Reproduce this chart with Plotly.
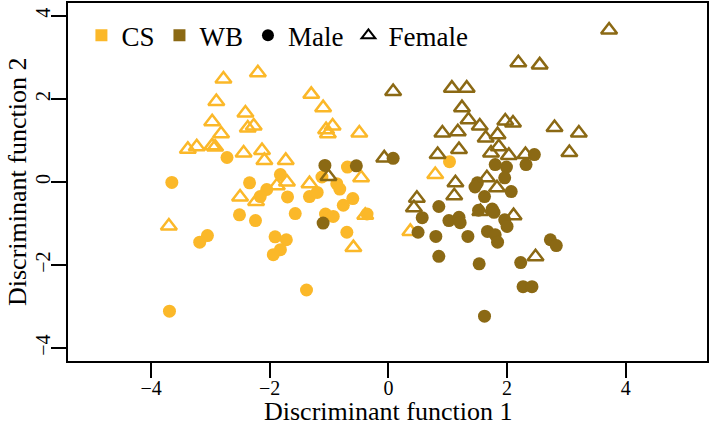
import plotly.graph_objects as go

YELLOW = "#FBB829"
BROWN = "#8B6914"

# CS female (open triangles)
cs_f_x = [-2.78, -2.20, -2.90, -1.30, -1.10, -2.41, -2.97, -2.27, -2.37, -2.82, -0.94, -1.05, -1.02,
          -0.49, -3.38, -3.23, -2.97, -2.92, -2.44, -2.13, -2.09, -1.73, -0.46, -1.33, -1.71, -1.88,
          -2.50, -2.23, -3.70, -0.39, -0.59, 0.79, 0.37]
cs_f_y = [2.48, 2.63, 1.94, 2.11, 1.79, 1.66, 1.45, 1.35, 1.30, 1.16, 1.35, 1.26, 1.16,
          1.18, 0.79, 0.85, 0.87, 0.84, 0.70, 0.76, 0.52, 0.52, 0.10, -0.04, 0.00, -0.09,
          -0.36, -0.47, -1.06, -0.80, -1.58, 0.18, -1.19]

# CS male (filled circles)
cs_m_x = [-2.72, -3.65, -2.34, -1.82, -2.05, -2.16, -1.70, -1.33, -1.20, -0.87, -0.82, -0.69, -1.12,
          -0.60, -0.76, -2.51, -2.24, -1.57, -1.06, -0.93, -0.36, -0.70, -1.91, -1.72, -1.82, -1.94,
          -3.05, -3.18, -1.38, -3.69, 1.03]
cs_m_y = [0.59, -0.01, -0.02, 0.18, -0.18, -0.35, -0.36, -0.35, -0.25, -0.04, -0.17, 0.36, 0.12,
          -0.40, -0.56, -0.79, -0.93, -0.76, -0.77, -0.83, -0.77, -1.21, -1.32, -1.39, -1.63, -1.75,
          -1.29, -1.45, -2.60, -3.11, 0.49]

# WB female (open triangles)
wb_f_x = [3.72, 2.19, 2.55, 0.08, 1.07, 1.32, 1.24, 1.35, 1.54, 1.97, 2.10, 0.91, 1.17, 1.64, 1.84,
          2.80, 3.21, 3.05, 0.83, 1.19, 1.86, 1.73, 2.03, 2.31, -0.07, 1.13, 1.66, 1.83, 0.48, 1.11,
          0.43, 1.55, 2.11, 2.48, -1.01]
wb_f_y = [3.66, 2.87, 2.82, 2.18, 2.26, 2.26, 1.79, 1.50, 1.35, 1.47, 1.42, 1.18, 1.21, 1.06, 1.14,
          1.31, 1.18, 0.71, 0.66, 0.78, 0.85, 0.70, 0.64, 0.66, 0.58, -0.02, 0.10, -0.14, -0.39, -0.33,
          -0.62, -0.71, -0.81, -1.80, 0.13]

# WB male (filled circles)
wb_m_x = [-1.07, -0.54, 0.08, -1.10, 2.46, 2.32, 1.80, 1.99, 1.96, 1.50, 1.46, 1.62, 2.07, 0.85, 0.57,
          1.02, 1.19, 1.21, 1.52, 1.75, 1.78, 1.96, 2.00, 0.50, 0.80, 1.34, 1.67, 1.80, 1.84, 2.73,
          2.83, 0.85, 1.53, 2.23, 2.27, 2.42, 1.62]
wb_m_y = [0.40, 0.39, 0.57, -0.99, 0.66, 0.42, 0.42, 0.36, 0.10, -0.02, -0.12, -0.35, -0.23, -0.59, -0.86,
          -0.93, -0.85, -0.98, -0.68, -0.65, -0.73, -0.91, -1.07, -1.21, -1.31, -1.31, -1.19, -1.27, -1.45, -1.39,
          -1.53, -1.79, -1.97, -1.94, -2.52, -2.52, -3.23]

x_ticks = [-4, -2, 0, 2, 4]
x_tick_labels = ["\u22124", "\u22122", "0", "2", "4"]
y_ticks = [-4, -2, 0, 2, 4]
y_tick_labels = ["\u22124", "\u22122", "0", "2", "4"]

legend_names = ["CS", "WB", "Male", "Female"]
x_title = "Discriminant function 1"
y_title = "Discriminant function 2"

FONT = "Liberation Serif, Times New Roman, serif"
TRI_SIZE = 14
CIRC_SIZE = 13

fig = go.Figure()

def tri(x, y, color):
    return go.Scatter(x=x, y=y, mode="markers", showlegend=False, hoverinfo="skip",
                      marker=dict(symbol="triangle-up-open", size=TRI_SIZE, color=color,
                                  line=dict(width=2.5, color=color)))

def circ(x, y, color):
    return go.Scatter(x=x, y=y, mode="markers", showlegend=False, hoverinfo="skip",
                      marker=dict(symbol="circle", size=CIRC_SIZE, color=color, line=dict(width=0)))

fig.add_trace(tri(cs_f_x, cs_f_y, YELLOW))
fig.add_trace(circ(cs_m_x, cs_m_y, YELLOW))
fig.add_trace(tri(wb_f_x, wb_f_y, BROWN))
fig.add_trace(circ(wb_m_x, wb_m_y, BROWN))

# legend entries
fig.add_trace(go.Scatter(x=[None], y=[None], mode="markers", name=legend_names[0],
                         marker=dict(symbol="square", size=11, color=YELLOW)))
fig.add_trace(go.Scatter(x=[None], y=[None], mode="markers", name=legend_names[1],
                         marker=dict(symbol="square", size=11, color=BROWN)))
fig.add_trace(go.Scatter(x=[None], y=[None], mode="markers", name=legend_names[2],
                         marker=dict(symbol="circle", size=13, color="black")))
fig.add_trace(go.Scatter(x=[None], y=[None], mode="markers", name=legend_names[3],
                         marker=dict(symbol="triangle-up-open", size=13, color="black",
                                     line=dict(width=2.5, color="black"))))

axis_common = dict(showgrid=False, zeroline=False, showline=True, mirror=True, automargin=False,
                   linecolor="black", linewidth=2, ticks="outside", ticklen=15, tickwidth=2,
                   tickcolor="black", ticklabelstandoff=-7,
                   tickfont=dict(family=FONT, size=20, color="black"))

fig.update_layout(
    width=709, height=427,
    margin=dict(l=68, r=2, t=3, b=66),
    paper_bgcolor="white", plot_bgcolor="white",
    font=dict(family=FONT, color="black"),
    xaxis=dict(range=[-5.4, 5.37], tickvals=x_ticks, ticktext=x_tick_labels, **axis_common),
    yaxis=dict(range=[-4.31, 4.31], tickvals=y_ticks, ticktext=y_tick_labels, tickangle=-90,
               **axis_common),
    legend=dict(orientation="h", x=0.021, y=0.977, xanchor="left", yanchor="top",
                font=dict(family=FONT, size=27, color="black"), bgcolor="rgba(0,0,0,0)",
                itemsizing="constant"),
    annotations=[
        dict(text=x_title, xref="paper", yref="paper", x=0.5008, y=-0.1397,
             xanchor="center", yanchor="middle", showarrow=False,
             font=dict(family=FONT, size=26, color="black")),
        dict(text=y_title, xref="paper", yref="paper", x=-0.0798, y=0.5,
             xanchor="center", yanchor="middle", textangle=-90, showarrow=False,
             font=dict(family=FONT, size=26, color="black")),
    ],
)

fig.write_html("out.html", config={"displayModeBar": False},
               post_script="document.body.style.margin='0px';document.body.style.overflow='hidden';")
